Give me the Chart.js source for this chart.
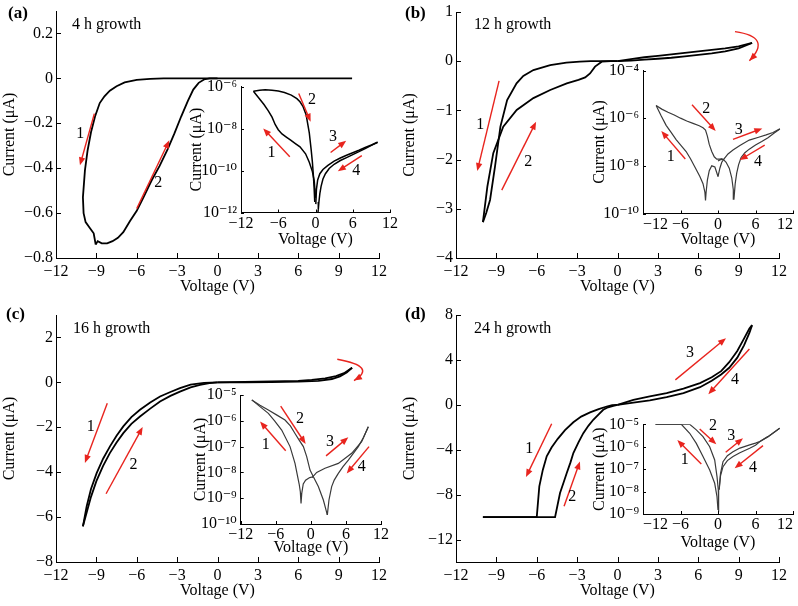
<!DOCTYPE html>
<html><head><meta charset="utf-8">
<script src="https://cdn.jsdelivr.net/npm/chart.js@4/dist/chart.umd.min.js"></script>
<style>
html,body{margin:0;padding:0;background:#fff;width:798px;height:606px;overflow:hidden;}
#wrap{position:relative;width:798px;height:606px;}
canvas{position:absolute;}
.lbl{position:absolute;font-family:'Liberation Serif','Times New Roman',serif;font-size:16px;line-height:16px;color:#000;white-space:nowrap;}
.pl{font-weight:bold;font-size:17px;}
</style></head><body><div id="wrap">
<canvas id="mainA"></canvas><canvas id="mainB"></canvas><canvas id="mainC"></canvas><canvas id="mainD"></canvas>
<canvas id="inA"></canvas><canvas id="inB"></canvas><canvas id="inC"></canvas><canvas id="inD"></canvas>
<div class="lbl pl" style="left:8px;top:5px">(a)</div><div class="lbl" style="left:72px;top:16px">4 h growth</div>
<div class="lbl pl" style="left:405px;top:5px">(b)</div><div class="lbl" style="left:474px;top:16px">12 h growth</div>
<div class="lbl pl" style="left:6px;top:306px">(c)</div><div class="lbl" style="left:73px;top:320px">16 h growth</div>
<div class="lbl pl" style="left:405px;top:306px">(d)</div><div class="lbl" style="left:474px;top:320px">24 h growth</div>
</div>
<script>
// ---------- tick labels ----------
const xTicksV = [-12, -9, -6, -3, 0, 3, 6, 9, 12];
const xTicksInset = [-12, -6, 0, 6, 12];
const yTicksA = [-0.8, -0.6, -0.4, -0.2, 0, 0.2];
const yTicksB = [-4, -3, -2, -1, 0, 1];
const yTicksC = [-8, -6, -4, -2, 0, 2];
const yTicksD = [-12, -8, -4, 0, 4, 8];
const yTicksInA = [-12, -10, -8, -6];
const yTicksInB = [-10, -8, -6, -4];
const yTicksInC = [-10, -9, -8, -7, -6, -5];
const yTicksInD = [-9, -8, -7, -6, -5];

// ---------- (a) 4 h growth: voltage (V) / current (uA) ----------
const aS1_V = [0, -4, -5, -6, -6.9, -7.5, -8.0, -8.4, -8.75, -9.1, -9.4, -9.65, -9.85, -10.0, -9.95, -9.8, -9.5, -9.2, -9.05];
const aS1_I = [0, 0, -0.002, -0.007, -0.018, -0.035, -0.055, -0.08, -0.11, -0.17, -0.24, -0.32, -0.41, -0.53, -0.6, -0.64, -0.665, -0.69, -0.74];
const aS2_V = [-9.05, -8.9, -8.6, -8.2, -7.8, -7.4, -7.0, -6.5, -6.0, -5.5, -4.9, -4.3, -3.7, -3.2, -2.7, -2.2, -1.8, -1.4, -1.0, -0.6, 0, 10];
const aS2_I = [-0.74, -0.725, -0.735, -0.735, -0.725, -0.71, -0.685, -0.635, -0.59, -0.53, -0.455, -0.39, -0.315, -0.245, -0.17, -0.1, -0.05, -0.02, -0.005, 0, 0, 0];
// inset: log10 of |current|
const aIn1_V = [0.0, -0.2, -0.5, -1.0, -1.6, -2.5, -3.3, -4.0, -4.7, -5.4, -6.0, -6.5, -7.0, -7.6, -8.3, -9.1, -10.0];
const aIn1_L = [-11.3, -10.5, -10.05, -9.6, -9.2, -8.87, -8.7, -8.55, -8.4, -8.25, -8.05, -7.8, -7.45, -7.15, -6.85, -6.55, -6.22];
const aIn2_V = [-10.0, -9.0, -8.1, -7.0, -6.0, -5.0, -3.9, -3.0, -2.5, -2.0, -1.5, -1.0, -0.7, -0.5, -0.35, -0.22, -0.12];
const aIn2_L = [-6.22, -6.17, -6.15, -6.17, -6.21, -6.28, -6.4, -6.57, -6.72, -6.95, -7.35, -8.2, -9.0, -9.6, -10.2, -10.85, -11.5];
const aIn3_V = [0.05, 0.15, 0.35, 0.7, 1.2, 2.0, 3.0, 4.0, 5.0, 6.0, 7.0, 8.0, 9.0, 10.0];
const aIn3_L = [-11.6, -10.9, -10.45, -10.15, -9.95, -9.75, -9.55, -9.4, -9.27, -9.15, -9.03, -8.9, -8.78, -8.65];
const aIn4_V = [10.0, 9.0, 8.0, 7.0, 6.0, 5.0, 4.0, 3.0, 2.2, 1.6, 1.2, 0.9, 0.7, 0.55, 0.45, 0.4];
const aIn4_L = [-8.65, -8.8, -8.95, -9.1, -9.24, -9.38, -9.52, -9.7, -9.9, -10.15, -10.4, -10.75, -11.1, -11.5, -11.85, -12.0];

// ---------- (b) 12 h growth ----------
const bS1_V = [0, -1, -2, -2.8, -3.8, -5.0, -6.25, -7.0, -7.5, -8.2, -8.7, -9.1, -9.47, -9.75, -10.0];
const bS1_I = [0, 0, 0, -0.01, -0.03, -0.08, -0.18, -0.3, -0.45, -0.79, -1.33, -2.14, -2.82, -3.08, -3.27];
const bS2_V = [-10.0, -9.67, -9.23, -8.49, -7.49, -6.25, -5.0, -3.77, -2.9, -2.4, -2.04, -1.67, -1.17, -0.5, 0];
const bS2_I = [-3.27, -2.55, -1.87, -1.33, -0.99, -0.75, -0.585, -0.45, -0.38, -0.33, -0.25, -0.11, -0.01, 0, 0];
const bS3_V = [0, 1, 2, 3, 4, 5, 6, 7, 8, 9, 10];
const bS3_I = [0, 0.04, 0.08, 0.11, 0.14, 0.17, 0.2, 0.23, 0.26, 0.3, 0.37];
const bS4_V = [10, 9, 8, 7, 6, 5, 4, 3, 2, 1, 0];
const bS4_I = [0.37, 0.26, 0.2, 0.16, 0.13, 0.1, 0.07, 0.05, 0.03, 0.01, 0];
const bIn1_V = [0, -0.5, -1.0, -1.4, -1.7, -1.9, -2.0, -2.1, -2.4, -2.9, -3.7, -4.4, -5.1, -5.9, -6.7, -7.5, -8.3, -9.1, -9.9];
const bIn1_L = [-8.45, -8.05, -8.0, -8.2, -8.6, -9.1, -9.45, -9.1, -8.75, -8.45, -8.05, -7.7, -7.4, -7.15, -6.9, -6.6, -6.3, -5.9, -5.47];
const bIn2_V = [-9.9, -9.0, -8.0, -7.0, -6.0, -5.0, -4.0, -3.0, -2.4, -2.0, -1.7, -1.4, -1.0, -0.6, -0.2, 0.3, 0.7];
const bIn2_L = [-5.47, -5.62, -5.75, -5.87, -6.0, -6.12, -6.22, -6.32, -6.4, -6.5, -6.75, -7.1, -7.4, -7.62, -7.72, -7.72, -7.7];
const bIn3_V = [0, 0.3, 0.6, 1.0, 1.6, 2.4, 3.5, 5.0, 6.5, 7.7, 8.8, 9.9];
const bIn3_L = [-8.45, -8.1, -7.85, -7.7, -7.5, -7.34, -7.15, -6.92, -6.8, -6.7, -6.6, -6.45];
const bIn4_V = [9.9, 9.0, 8.0, 7.0, 6.0, 5.0, 4.3, 3.7, 3.3, 3.0, 2.75, 2.55, 2.45, 2.2, 1.8, 1.3, 0.8, 0.3, 0];
const bIn4_L = [-6.45, -6.62, -6.82, -6.98, -7.13, -7.3, -7.45, -7.65, -7.95, -8.3, -8.75, -9.4, -9.0, -8.5, -8.1, -7.85, -7.72, -7.75, -7.8];

// ---------- (c) 16 h growth ----------
const cS1_V = [0, -1, -2, -2.79, -3.5, -4.27, -5.0, -5.76, -6.4, -7.0, -7.5, -7.99, -8.5, -8.98, -9.4, -9.72, -10.0];
const cS1_I = [0, -0.02, -0.1, -0.26, -0.43, -0.63, -0.9, -1.22, -1.55, -1.96, -2.38, -2.85, -3.4, -4.04, -4.75, -5.52, -6.41];
const cS2_V = [-10.0, -9.7, -9.4, -9.0, -8.5, -8.0, -7.5, -7.0, -6.4, -5.76, -5.0, -4.27, -3.5, -2.79, -2.0, -1.3, -0.6, 0];
const cS2_I = [-6.41, -5.75, -5.1, -4.4, -3.72, -3.15, -2.68, -2.26, -1.85, -1.52, -1.17, -0.85, -0.6, -0.41, -0.22, -0.11, -0.03, 0];
const cS3_V = [0, 2, 4, 6, 7, 8, 8.8, 9.4, 10];
const cS3_I = [0, 0.02, 0.04, 0.07, 0.11, 0.18, 0.28, 0.41, 0.65];
const cS4_V = [10, 9.6, 9.1, 8.5, 7.5, 6, 4, 2, 0];
const cS4_I = [0.65, 0.44, 0.27, 0.15, 0.07, 0.03, 0.01, 0, 0];
const cIn1_V = [0.4, -0.2, -0.9, -1.3, -1.55, -1.68, -1.8, -2.0, -2.25, -2.71, -3.56, -4.99, -6.2, -7.27, -8.7, -10.1];
const cIn1_L = [-8.17, -8.2, -8.3, -8.45, -8.8, -9.2, -8.75, -8.45, -8.17, -7.65, -7.0, -6.36, -6.0, -5.71, -5.45, -5.19];
const cIn2_V = [-10.1, -8.7, -7.27, -5.8, -4.42, -3.5, -2.71, -2.0, -1.28, -0.71, -0.14, 0.43, 1.28, 2.14, 2.6, 2.82];
const cIn2_L = [-5.19, -5.4, -5.58, -5.78, -5.97, -6.2, -6.49, -6.75, -7.0, -7.39, -7.91, -8.17, -8.55, -9.07, -9.46, -9.65];
const cIn3_V = [0.2, 1.0, 2.42, 4.7, 6.98, 8.69, 9.83];
const cIn3_L = [-8.2, -8.0, -7.84, -7.65, -7.26, -6.81, -6.23];
const cIn4_V = [9.83, 9.0, 8.12, 7.2, 6.41, 5.5, 4.7, 4.0, 3.56, 3.1, 2.88, 2.82];
const cIn4_L = [-6.23, -6.65, -7.0, -7.28, -7.52, -7.78, -8.04, -8.3, -8.55, -9.07, -9.52, -9.65];

// ---------- (d) 24 h growth ----------
const dS1_V = [0, -0.4, -0.8, -1.4, -2.04, -2.7, -3.28, -3.9, -4.44, -4.9, -5.26, -5.55, -5.81, -6.0, -10.0];
const dS1_I = [0, -0.03, -0.15, -0.38, -0.67, -1.05, -1.55, -2.25, -3.03, -3.8, -4.59, -5.8, -7.26, -10.0, -10.0];
const dS2_V = [-10, -4.64, -4.45, -4.27, -4.0, -3.77, -3.5, -3.28, -2.9, -2.54, -2.15, -1.8, -1.4, -1.06, -0.7, -0.31, 0];
const dS2_I = [-10, -10, -8.9, -7.85, -6.9, -6.07, -5.15, -4.3, -3.35, -2.52, -1.85, -1.33, -0.85, -0.44, -0.22, -0.09, 0];
const dS3_V = [0, 1.18, 2.4, 3.65, 4.9, 6.13, 7.0, 7.7, 8.3, 8.9, 9.4, 9.8, 10];
const dS3_I = [0, 0.44, 0.75, 1.04, 1.45, 1.93, 2.45, 3.0, 3.8, 4.8, 5.9, 6.8, 7.1];
const dS4_V = [10, 9.8, 9.4, 8.9, 8.3, 7.7, 7.0, 6.13, 4.9, 3.65, 2.4, 1.18, 0];
const dS4_I = [7.1, 6.4, 5.3, 4.2, 3.3, 2.7, 2.15, 1.57, 1.05, 0.68, 0.4, 0.2, 0];
const dIn1_V = [-10, -5.87, -4.53, -3.47, -2.4, -1.33, -0.53, -0.16, 0];
const dIn1_L = [-5, -5, -5.4, -5.85, -6.44, -7.04, -7.63, -8.23, -8.82];
const dIn2_V = [-10, -4.53, -3.47, -2.4, -1.33, -0.53, -0.16, 0.05, 0.1];
const dIn2_L = [-5, -5, -5.25, -5.55, -6.0, -6.59, -7.33, -7.93, -8.9];
const dIn3_V = [0.2, 0.4, 0.8, 1.5, 2.4, 3.5, 5.07, 6.0, 6.67, 8.0, 9.87];
const dIn3_L = [-7.9, -7.2, -6.67, -6.4, -6.22, -6.06, -5.92, -5.84, -5.77, -5.55, -5.18];
const dIn4_V = [9.87, 8.0, 6.67, 6.0, 5.07, 3.5, 2.4, 1.5, 0.8, 0.4, 0.16];
const dIn4_L = [-5.18, -5.55, -5.78, -5.93, -6.07, -6.27, -6.44, -6.62, -6.89, -7.3, -7.93];

// ---------- red arrow annotations (data units; inset y in log10) ----------
const NOTES = {
  mainA: {arrows: [[-9.15,-0.157,-10.22,-0.387],[-6.0,-0.58,-3.58,-0.276]], labels: [['1',-10.2,-0.245],['2',-4.4,-0.465]]},
  inA: {arrows: [[-4.14,-9.34,-8.42,-7.99],[-2.7,-6.32,-0.78,-7.67],[2.43,-9.14,4.94,-8.58],[7.46,-9.29,3.6,-10.03]], labels: [['1',-7.1,-9.15],['2',-0.58,-6.64],['3',2.8,-8.39],['4',6.55,-10.01]]},
  mainB: {arrows: [[-8.8,-0.40,-10.42,-2.23],[-8.6,-2.62,-6.05,-1.23]], labels: [['1',-10.2,-1.3],['2',-6.63,-2.04]], curves: [[8.73,0.6,10.39,0.4,9.8,0.01]]},
  inB: {arrows: [[-5.23,-7.71,-9.07,-6.54],[-4.16,-5.44,-0.37,-6.54],[2.4,-6.89,7.09,-6.43],[7.47,-7.13,3.47,-7.76]], labels: [['1',-7.57,-7.62],['2',-1.87,-5.61],['3',3.31,-6.5],['4',6.4,-7.83]]},
  mainC: {arrows: [[-8.19,-0.93,-9.85,-3.59],[-8.28,-4.96,-5.56,-1.99]], labels: [['1',-9.42,-1.96],['2',-6.25,-3.67]], curves: [[8.9,1.03,10.71,0.63,10.14,0.08]]},
  inC: {arrows: [[-4.3,-7.16,-8.69,-6.03],[-5.16,-5.43,-0.89,-6.9],[2.6,-7.36,6.41,-6.64],[9.95,-7.0,6.13,-8.04]], labels: [['1',-7.73,-6.94],['2',-1.85,-5.94],['3',3.28,-6.81],['4',8.69,-7.8]]},
  mainD: {arrows: [[-4.89,-1.69,-6.8,-6.43],[-3.97,-9.04,-2.79,-5.04],[4.3,2.22,8.06,5.93],[9.8,4.98,6.75,0.95]], labels: [['1',-6.55,-3.94],['2',-3.36,-8.15],['3',5.39,4.6],['4',8.73,2.22]]},
  inD: {arrows: [[-2.67,-6.77,-6.51,-5.7],[-2.93,-5.21,-0.27,-5.89],[1.23,-6.25,4.0,-5.62],[7.2,-5.95,2.67,-6.96]], labels: [['1',-5.33,-6.59],['2',-0.8,-5.07],['3',2.13,-5.52],['4',5.6,-6.96]]}
};

const FONT = "'Liberation Serif','Times New Roman','DejaVu Serif',serif";
const RED = '#e8241e';
const SUP = {'-':'\u207B','0':'\u2070','1':'\u00B9','2':'\u00B2','3':'\u00B3','4':'\u2074','5':'\u2075','6':'\u2076','7':'\u2077','8':'\u2078','9':'\u2079'};
function fmtLin(v){ const r = Math.round(v*1000)/1000; return (r < 0 ? '\u2212' : '') + String(Math.abs(r)); }
function fmtLog(v){ const e = Math.round(Math.log10(v)); return '10' + String(e).split('').map(c => SUP[c]).join(''); }

const SETTINGS = {};

Chart.register({
  id: 'inTicks',
  afterDraw(chart){
    const st = SETTINGS[chart.canvas.id]; const ctx = chart.ctx; const a = chart.chartArea;
    const xs = chart.scales.x, ys = chart.scales.y;
    ctx.save(); ctx.strokeStyle = '#000'; ctx.lineWidth = 1;
    xs.ticks.forEach(t => { const p = Math.round(xs.getPixelForValue(t.value)) + 0.5; ctx.beginPath(); ctx.moveTo(p, a.bottom); ctx.lineTo(p, a.bottom - st.tick); ctx.stroke(); });
    ys.ticks.forEach(t => { const p = Math.round(ys.getPixelForValue(t.value)) + 0.5; ctx.beginPath(); ctx.moveTo(a.left, p); ctx.lineTo(a.left + st.tick, p); ctx.stroke(); });
    ctx.restore();
  }
});

function head(ctx, x1, y1, x2, y2){
  const ang = Math.atan2(y2 - y1, x2 - x1), L = 8, W = 3.2;
  ctx.beginPath();
  ctx.moveTo(x2, y2);
  ctx.lineTo(x2 - L*Math.cos(ang) + W*Math.sin(ang), y2 - L*Math.sin(ang) - W*Math.cos(ang));
  ctx.lineTo(x2 - L*Math.cos(ang) - W*Math.sin(ang), y2 - L*Math.sin(ang) + W*Math.cos(ang));
  ctx.closePath(); ctx.fill();
}

Chart.register({
  id: 'notes',
  afterDatasetsDraw(chart){
    const n = NOTES[chart.canvas.id]; const st = SETTINGS[chart.canvas.id];
    if (!n) return;
    const xs = chart.scales.x, ys = chart.scales.y;
    const X = v => xs.getPixelForValue(v);
    const Y = v => ys.getPixelForValue(st.log ? Math.pow(10, v) : v);
    const ctx = chart.ctx; ctx.save();
    ctx.strokeStyle = RED; ctx.fillStyle = RED; ctx.lineWidth = 1.4;
    (n.arrows || []).forEach(a => {
      const x1 = X(a[0]), y1 = Y(a[1]), x2 = X(a[2]), y2 = Y(a[3]);
      const ang = Math.atan2(y2 - y1, x2 - x1);
      ctx.beginPath(); ctx.moveTo(x1, y1); ctx.lineTo(x2 - 6*Math.cos(ang), y2 - 6*Math.sin(ang)); ctx.stroke();
      head(ctx, x1, y1, x2, y2);
    });
    (n.curves || []).forEach(c => {
      const p0x = X(c[0]), p0y = Y(c[1]), mx = X(c[2]), my = Y(c[3]), p2x = X(c[4]), p2y = Y(c[5]);
      const cx = 2*mx - (p0x + p2x)/2, cy = 2*my - (p0y + p2y)/2;
      ctx.beginPath(); ctx.moveTo(p0x, p0y); ctx.quadraticCurveTo(cx, cy, p2x, p2y); ctx.stroke();
      head(ctx, cx, cy, p2x, p2y);
    });
    ctx.fillStyle = '#000'; ctx.font = '16px ' + FONT; ctx.textAlign = 'center'; ctx.textBaseline = 'middle';
    (n.labels || []).forEach(l => ctx.fillText(l[0], X(l[1]), Y(l[2])));
    ctx.restore();
  }
});

function pts(V, I, log){ return V.map((v, i) => ({x: v, y: log ? Math.pow(10, I[i]) : I[i]})); }

function build(id, spec){
  SETTINGS[id] = spec;
  const cv = document.getElementById(id);
  const [cx, cy, cw, ch] = spec.canvas;
  const [L, T, R, B] = spec.area;
  cv.width = cw; cv.height = ch;
  cv.style.left = cx + 'px'; cv.style.top = cy + 'px'; cv.style.width = cw + 'px'; cv.style.height = ch + 'px';
  const f = {family: FONT, size: 16, lineHeight: 1};
  const yScale = spec.log ? {
    type: 'logarithmic', min: Math.pow(10, spec.yTicks[0]), max: Math.pow(10, spec.yTicks[spec.yTicks.length - 1])
  } : {type: 'linear', min: spec.yMin, max: spec.yMax};
  new Chart(cv, {
    type: 'scatter',
    data: {datasets: spec.series.map(s => ({
      data: pts(s[0], s[1], spec.log), showLine: true, borderColor: spec.color, borderWidth: spec.lw,
      pointRadius: 0, pointHoverRadius: 0, fill: false, tension: 0
    }))},
    options: {
      responsive: false, animation: false, devicePixelRatio: 1,
      layout: {padding: {left: 0, top: T - cy, right: cx + cw - R, bottom: 0}},
      plugins: {legend: {display: false}, tooltip: {enabled: false}},
      scales: {
        x: {
          type: 'linear', position: 'bottom', min: -12, max: 12,
          afterFit: s => { s.height = cy + ch - B; },
          afterBuildTicks: s => { s.ticks = spec.xTicks.map(v => ({value: v})); },
          grid: {display: false, drawTicks: false},
          border: {display: true, color: '#000', width: 1},
          ticks: {font: f, color: '#000', padding: spec.xPad, maxRotation: 0, minRotation: 0, autoSkip: false, align: spec.xAlign || 'center', callback: v => fmtLin(v)},
          title: {display: true, text: 'Voltage (V)', font: f, color: '#000', padding: {top: 0, bottom: (cy + ch) - 8 - spec.xTitleY}}
        },
        y: Object.assign(yScale, {
          position: 'left',
          afterFit: s => { s.width = L - cx; },
          afterBuildTicks: s => { s.ticks = spec.yTicks.map(v => ({value: spec.log ? Math.pow(10, v) : v})); },
          grid: {display: false, drawTicks: false},
          border: {display: true, color: '#000', width: 1},
          ticks: {font: f, color: '#000', padding: spec.yPad, autoSkip: false, callback: v => spec.log ? fmtLog(v) : fmtLin(v)},
          title: {display: true, text: 'Current (\u03BCA)', font: f, color: '#000', padding: {top: spec.yTitleX - cx - 8, bottom: 0}}
        })
      }
    }
  });
}

const MAIN = {color: '#000', lw: 1.8, xTicks: xTicksV, xPad: 6, yPad: 3, tick: 5, log: false};
const INS = {lw: 1.2, xTicks: xTicksInset, xPad: 3, yPad: 4, tick: 3, log: true};

build('mainA', Object.assign({}, MAIN, {canvas: [0, 0, 400, 300], area: [56, 10.5, 379, 258], yMin: -0.8, yMax: 0.3, yTicks: yTicksA, xTitleY: 287, yTitleX: 10,
  series: [[aS1_V, aS1_I], [aS2_V, aS2_I]]}));
build('mainB', Object.assign({}, MAIN, {canvas: [400, 0, 398, 300], area: [456, 12, 779, 258], yMin: -4, yMax: 1, yTicks: yTicksB, xTitleY: 287, yTitleX: 410,
  series: [[bS1_V, bS1_I], [bS2_V, bS2_I], [bS3_V, bS3_I], [bS4_V, bS4_I]]}));
build('mainC', Object.assign({}, MAIN, {canvas: [0, 300, 400, 306], area: [56, 315, 379, 562], yMin: -8, yMax: 3, yTicks: yTicksC, xTitleY: 591, yTitleX: 10,
  series: [[cS1_V, cS1_I], [cS2_V, cS2_I], [cS3_V, cS3_I], [cS4_V, cS4_I]]}));
build('mainD', Object.assign({}, MAIN, {canvas: [400, 300, 398, 306], area: [456, 315, 779, 562], yMin: -14, yMax: 8, yTicks: yTicksD, xTitleY: 591, yTitleX: 410,
  series: [[dS1_V, dS1_I], [dS2_V, dS2_I], [dS3_V, dS3_I], [dS4_V, dS4_I]]}));

build('inA', Object.assign({}, INS, {color: '#000', lw: 1.5, canvas: [179, 73, 223, 180], area: [241, 86.7, 390, 212.5], yTicks: yTicksInA, xTitleY: 240, yTitleX: 197,
  series: [[aIn1_V, aIn1_L], [aIn2_V, aIn2_L], [aIn3_V, aIn3_L], [aIn4_V, aIn4_L]]}));
build('inB', Object.assign({}, INS, {color: '#3a3a3a', canvas: [581, 57, 217, 197], area: [643, 70.5, 793, 213.5], yTicks: yTicksInB, xTitleY: 240, yTitleX: 600, xAlign: 'inner',
  series: [[bIn1_V, bIn1_L], [bIn2_V, bIn2_L], [bIn3_V, bIn3_L], [bIn4_V, bIn4_L]]}));
build('inC', Object.assign({}, INS, {color: '#3a3a3a', canvas: [178, 382, 216, 182], area: [240.7, 395, 381, 524], yTicks: yTicksInC, xTitleY: 548, yTitleX: 201,
  series: [[cIn1_V, cIn1_L], [cIn2_V, cIn2_L], [cIn3_V, cIn3_L], [cIn4_V, cIn4_L]]}));
build('inD', Object.assign({}, INS, {color: '#3a3a3a', canvas: [581, 411, 217, 143], area: [643, 424.3, 793, 514], yTicks: yTicksInD, xTitleY: 542.7, yTitleX: 600, xAlign: 'inner',
  series: [[dIn1_V, dIn1_L], [dIn2_V, dIn2_L], [dIn3_V, dIn3_L], [dIn4_V, dIn4_L]]}));
</script>
</body></html>
